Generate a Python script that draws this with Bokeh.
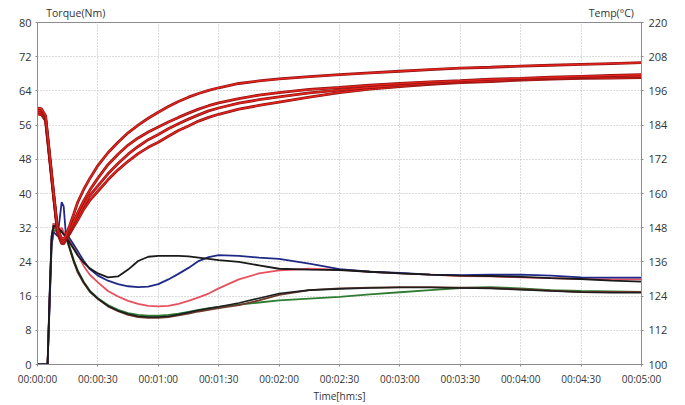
from bokeh.plotting import figure
from bokeh.models import Range1d, LinearAxis, FixedTicker
from bokeh.embed import file_html
from bokeh.resources import INLINE

# ---- data ----
time_s = [0, 2, 4, 5, 6, 7, 8, 10, 12, 13, 14, 16, 18, 20, 23, 26, 30, 35, 40, 45, 50, 55, 60,
          65, 70, 75, 80, 85, 90, 100, 110, 120, 135, 150, 165, 180, 195, 210, 225, 240, 255, 270, 285, 300]

torque_navy = [0, 0, 0, 0, 14, 28, 31, 30, 38, 37, 31, 29.5, 28, 26.5, 24.2, 22.3, 20.8, 19.6, 18.8, 18.3, 18.1, 18.2, 18.8,
               19.9, 21.2, 22.6, 24.2, 25.1, 25.6, 25.4, 25.0, 24.7, 23.6, 22.3, 21.7, 21.4, 21.0, 20.9, 21.0, 21.0, 20.8, 20.4, 20.3, 20.3]
torque_black = [0, 0, 0, 0, 16, 30, 32.5, 32, 31, 30.5, 30, 28.5, 27, 25.5, 23.8, 22.5, 21.3, 20.4, 20.6, 22.2, 24.2, 25.2, 25.4,
                25.4, 25.4, 25.3, 25.0, 24.7, 24.4, 24.0, 23.2, 22.4, 22.2, 22.1, 21.7, 21.3, 21.0, 20.8, 20.7, 20.5, 20.2, 20.0, 19.6, 19.4]
torque_pink = [0, 0, 0, 0, 15, 29, 33, 31, 32, 31, 30, 29, 27.3, 25.7, 23.0, 21.0, 19.2, 17.2, 15.9, 14.9, 14.2, 13.7, 13.6,
               13.7, 14.2, 14.9, 15.7, 16.6, 17.8, 19.9, 21.3, 22.0, 22.4, 22.2, 21.7, 21.3, 21.0, 20.7, 20.6, 20.4, 20.2, 20.0, 19.9, 19.9]
torque_brown = [0, 0, 0, 0, 15, 29, 32.5, 31, 31.5, 30.5, 30, 27, 24, 21.5, 19.0, 17.0, 15.3, 13.6, 12.5, 11.6, 11.1, 10.9, 10.9,
                11.1, 11.5, 11.9, 12.4, 12.8, 13.2, 13.9, 15.0, 16.3, 17.4, 17.8, 18.0, 18.1, 18.1, 18.0, 17.9, 17.6, 17.3, 17.0, 17.0, 17.0]
torque_green = [0, 0, 0, 0, 14, 28, 31.5, 31, 31, 30.5, 30, 27.5, 24.5, 22, 19.3, 17.3, 15.5, 13.9, 12.8, 12.0, 11.6, 11.4, 11.4,
                11.6, 11.9, 12.3, 12.8, 13.2, 13.5, 14.0, 14.5, 15.0, 15.4, 15.8, 16.4, 16.9, 17.4, 17.9, 18.1, 17.8, 17.4, 17.2, 17.1, 17.0]
torque_dark = [0, 0, 0, 0, 16, 30, 33, 32, 31, 30.5, 30, 27.2, 24.2, 21.8, 19.2, 17.1, 15.4, 13.7, 12.6, 11.8, 11.3, 11.1, 11.1,
               11.3, 11.7, 12.2, 12.7, 13.1, 13.5, 14.4, 15.5, 16.6, 17.4, 17.7, 17.9, 18.0, 18.0, 17.9, 17.8, 17.5, 17.2, 16.9, 16.8, 16.8]

temp_1 = [190, 189.7, 187.3, 180.6, 173.8, 167.1, 160.3, 147.3, 144.3, 144.0, 145.0, 148.8, 152.8, 157.0, 161.5, 165.3, 169.8,
          174.3, 178.0, 181.3, 184.0, 186.4, 188.5, 190.5, 192.3, 193.8, 195.1, 196.2, 197.1, 198.6, 199.5, 200.2, 201.0, 201.7,
          202.3, 202.9, 203.5, 204.0, 204.3, 204.7, 205.0, 205.3, 205.6, 205.9]
temp_2 = [189.3, 189.0, 186.7, 180.0, 173.2, 166.5, 159.7, 146.8, 143.5, 143.2, 144.6, 147.3, 150.3, 153.3, 157.5, 161.2, 165.4,
          170.1, 173.8, 177.0, 179.5, 181.6, 183.3, 185.1, 186.7, 188.2, 189.6, 190.8, 191.8, 193.3, 194.5, 195.4, 196.5, 197.2,
          198.0, 198.6, 199.2, 199.6, 200.1, 200.4, 200.8, 201.1, 201.4, 201.7]
temp_3 = [188.5, 188.2, 186.1, 179.5, 172.8, 166.0, 159.3, 146.5, 142.9, 142.6, 144.1, 146.5, 149.2, 151.9, 155.8, 159.3, 162.7,
          166.9, 170.5, 173.8, 176.5, 178.9, 180.7, 182.7, 184.5, 186.1, 187.6, 189.0, 190.0, 191.7, 192.9, 193.9, 195.3, 196.3,
          197.2, 198.0, 198.6, 199.2, 199.6, 200.1, 200.4, 200.7, 201.0, 201.1]
temp_4 = [187.9, 187.6, 185.5, 178.9, 172.2, 165.4, 158.7, 145.9, 142.5, 142.3, 143.8, 145.9, 148.3, 150.7, 154.5, 157.6, 160.8,
          164.8, 168.3, 171.3, 174.0, 176.2, 178.0, 180.1, 182.1, 183.7, 185.4, 186.7, 187.8, 189.6, 190.9, 192.1, 193.8, 195.4,
          196.6, 197.5, 198.3, 198.9, 199.3, 199.8, 200.1, 200.4, 200.5, 200.7]

time_ticks = [0, 30, 60, 90, 120, 150, 180, 210, 240, 270, 300]
time_labels = ["00:00:00", "00:00:30", "00:01:00", "00:01:30", "00:02:00", "00:02:30",
               "00:03:00", "00:03:30", "00:04:00", "00:04:30", "00:05:00"]
torque_ticks = [0, 8, 16, 24, 32, 40, 48, 56, 64, 72, 80]
temp_ticks = [100, 112, 124, 136, 148, 160, 172, 184, 196, 208, 220]
axis_titles = {19: "Torque(Nm)", 285: "Temp(°C)"}

FONT = "Open Sans"
TXT = "#333333"
AX = "#8c8c8c"

p = figure(width=685, height=405, output_backend="svg", toolbar_location=None,
           x_range=Range1d(0, 300), y_range=Range1d(0, 80),
           min_border_left=37, min_border_right=44, min_border_top=22, min_border_bottom=38)
p.extra_y_ranges = {"temp": Range1d(100, 220)}
p.background_fill_color = "white"
p.border_fill_color = "white"
p.outline_line_color = AX
p.outline_line_width = 1

bax = p.below[0]
lax = p.left[0]
bax.ticker = FixedTicker(ticks=time_ticks)
bax.major_label_overrides = {t: l for t, l in zip(time_ticks, time_labels)}
lax.ticker = FixedTicker(ticks=torque_ticks)
raxis = LinearAxis(y_range_name="temp", ticker=FixedTicker(ticks=temp_ticks))
p.add_layout(raxis, "right")

# axis titles at the top, drawn by an unmarked axis above the frame
taxis = LinearAxis(ticker=FixedTicker(ticks=list(axis_titles.keys())),
                   major_label_overrides=axis_titles)
taxis.axis_line_color = None
taxis.major_tick_line_color = None
taxis.minor_tick_line_color = None
taxis.major_tick_out = 0
taxis.major_tick_in = 0
taxis.minor_tick_out = 0
taxis.minor_tick_in = 0
taxis.major_label_standoff = 3
taxis.major_label_text_font = FONT
taxis.major_label_text_font_size = "10.5px"
taxis.major_label_text_color = TXT
p.add_layout(taxis, "above")

for ax in [bax, lax, raxis]:
    ax.axis_line_color = AX
    ax.major_tick_line_color = AX
    ax.major_tick_out = 2
    ax.major_tick_in = 0
    ax.minor_tick_line_color = None
    ax.major_label_text_font = FONT
    ax.major_label_text_color = TXT
bax.major_label_text_font_size = "10px"
bax.major_label_standoff = 5
lax.major_label_text_font_size = "11px"
lax.major_label_standoff = 4
raxis.major_label_text_font_size = "11px"
raxis.major_label_standoff = 5
bax.axis_label = "Time[hm:s]"
bax.axis_label_text_font = FONT
bax.axis_label_text_font_size = "10px"
bax.axis_label_text_font_style = "normal"
bax.axis_label_text_color = TXT
bax.axis_label_standoff = 0

# grid
p.xgrid[0].ticker = FixedTicker(ticks=time_ticks)
p.ygrid[0].ticker = FixedTicker(ticks=torque_ticks)
for g in [p.xgrid[0], p.ygrid[0]]:
    g.grid_line_color = "#b8b8b8"
    g.grid_line_dash = "1 2"
    g.grid_line_width = 1

# torque curves
p.line(time_s, torque_green, line_color="#2e7d32", line_width=1.8)
p.line(time_s, torque_brown, line_color="#6b3a2a", line_width=1.8)
p.line(time_s, torque_dark, line_color="#1e1e1e", line_width=1.6)
p.line(time_s, torque_pink, line_color="#e8505f", line_width=1.8)
p.line(time_s, torque_navy, line_color="#1f2a86", line_width=1.8)
p.line(time_s, torque_black, line_color="#1a1a1a", line_width=1.8)

# temperature curves
for tc in [temp_4, temp_3, temp_2, temp_1]:
    p.line(time_s, tc, y_range_name="temp", line_color="#8a1212", line_width=2.8)
    p.line(time_s, tc, y_range_name="temp", line_color="#e3231c", line_width=1.5)

open("out.html", "w").write(file_html(p, INLINE))
